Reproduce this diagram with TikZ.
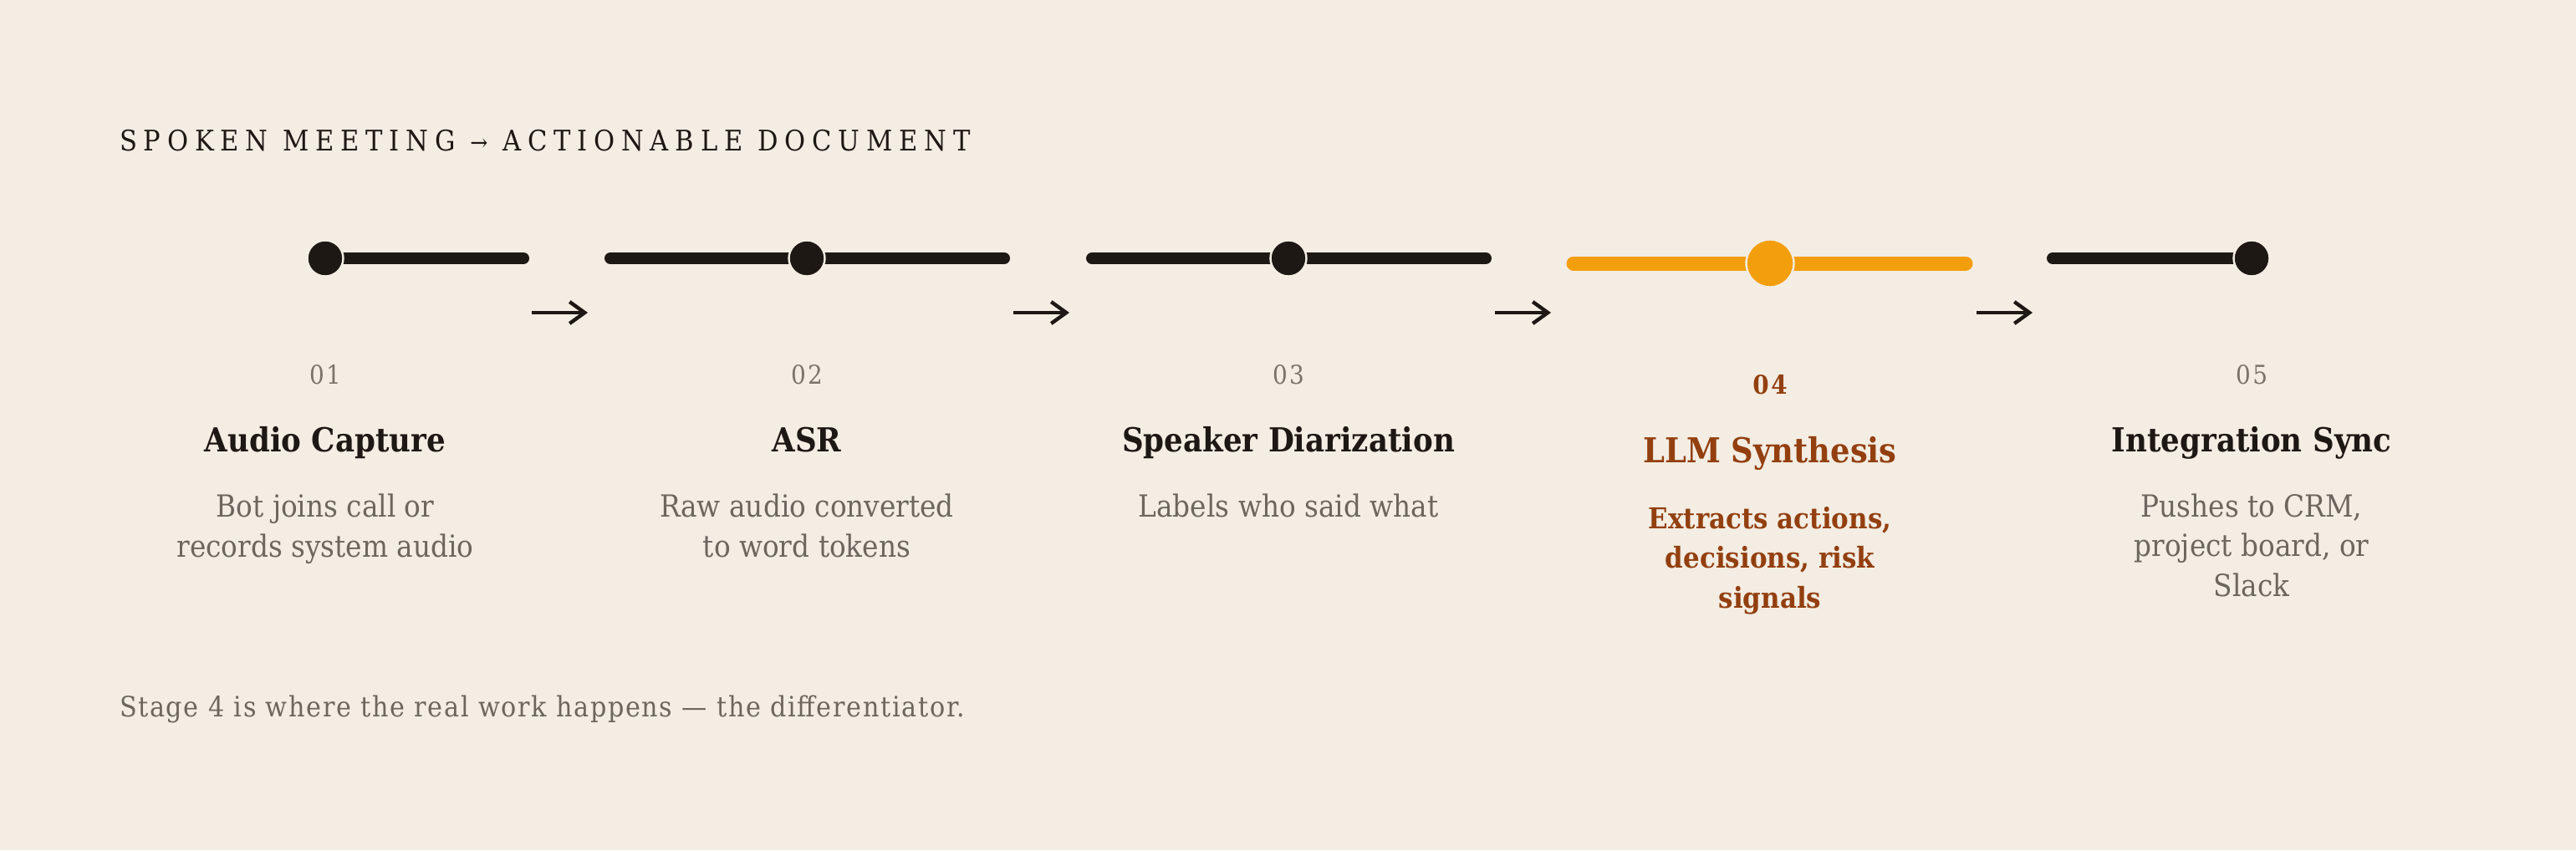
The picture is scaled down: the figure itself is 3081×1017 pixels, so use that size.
\documentclass[tikz,border=0pt]{standalone}
\usepackage{fontspec}
\setmainfont{DejaVu Serif}[FakeStretch = 0.9]
\newfontfamily\trackfont{DejaVu Serif}[FakeStretch = 0.9, LetterSpace = 23]
\newfontfamily\numfont{DejaVu Serif}[FakeStretch = 0.9, LetterSpace = 8]
\newfontfamily\notefont{DejaVu Serif}[FakeStretch = 0.9, LetterSpace = 5]
\usetikzlibrary{positioning, arrows.meta}

\definecolor{paper}{HTML}{F3EDE3}
\definecolor{ink}{HTML}{1D1814}
\definecolor{amber}{HTML}{F39E0D}
\definecolor{rust}{HTML}{933F0F}
\definecolor{muted}{HTML}{6D665E}
\definecolor{stone}{HTML}{7A736B}

\begin{document}
\begin{tikzpicture}[x = 0.5pt, y = -0.5pt, inner sep = 0pt, outer sep = 0pt,
  dot/.style = {circle, fill = ink, draw = paper, line width = 1.2pt, minimum size = 21.5pt},
  hotdot/.style = {dot, fill = amber, minimum size = 28.5pt},
  track/.style = {line width = 7pt, line cap = round, draw = ink},
  hottrack/.style = {track, line width = 8.5pt, draw = amber},
  stagenum/.style = {anchor = base, text = stone, font = \numfont\fontsize{15.5}{18}\selectfont},
  stagetitle/.style = {anchor = base, text = ink, font = \bfseries\fontsize{19.8}{23}\selectfont},
  stagetext/.style = {anchor = base, align = center, text = muted, font = \fontsize{18.2}{23.75}\selectfont},
  flow/.style = {draw = ink, line width = 2.2pt, -{Straight Barb[length = 9pt, width = 13pt]}}]
  \fill [paper] (0, 0) rectangle (3081, 1017);
  \useasboundingbox (0, 0) rectangle (3081, 1017);

  \node (heading) [anchor = base west, text = ink, font = \trackfont\fontsize{17}{20}\selectfont] at (143, 180)
    {SPOKEN MEETING {\fontsize{14}{14}\selectfont →} ACTIONABLE DOCUMENT};

  % tracks
  \coordinate (trackA1) at (389, 309);   \coordinate (trackA2) at (626, 309);
  \coordinate (trackB1) at (730, 309);   \coordinate (trackB2) at (1201, 309);
  \coordinate (trackC1) at (1306, 309);  \coordinate (trackC2) at (1777, 309);
  \coordinate (trackD1) at (1882, 315);  \coordinate (trackD2) at (2351, 315);
  \coordinate (trackE1) at (2455, 309);  \coordinate (trackE2) at (2693, 309);
  \draw [track] (trackA1) -- (trackA2);
  \draw [track] (trackB1) -- (trackB2);
  \draw [track] (trackC1) -- (trackC2);
  \draw [hottrack] (trackD1) -- (trackD2);
  \draw [track] (trackE1) -- (trackE2);

  \node (capture) [dot] at (389, 309) {};
  \node (asr) [dot] at (965, 309) {};
  \node (diarize) [dot] at (1541, 309) {};
  \node (synth) [hotdot] at (2117, 315) {};
  \node (sync) [dot] at (2693, 309) {};

  % arrows between stages
  \coordinate (flowA1) at (636, 374);   \coordinate (flowA2) at (703, 374);
  \coordinate (flowB1) at (1212, 374);  \coordinate (flowB2) at (1279, 374);
  \coordinate (flowC1) at (1788, 374);  \coordinate (flowC2) at (1855, 374);
  \coordinate (flowD1) at (2364, 374);  \coordinate (flowD2) at (2431, 374);
  \draw [flow] (flowA1) -- (flowA2);
  \draw [flow] (flowB1) -- (flowB2);
  \draw [flow] (flowC1) -- (flowC2);
  \draw [flow] (flowD1) -- (flowD2);

  % labels (base of a wrapped text is its last line)
  \node (captureNum) [stagenum] at (389, 459) {01};
  \node (captureTitle) [stagetitle] at (389, 540) {Audio Capture};
  \node (captureText) [stagetext] at (389, 666) {Bot joins call or\\records system audio};

  \node (asrNum) [stagenum] at (965, 459) {02};
  \node (asrTitle) [stagetitle] at (965, 540) {ASR};
  \node (asrText) [stagetext] at (965, 666) {Raw audio converted\\to word tokens};

  \node (diarizeNum) [stagenum] at (1541, 459) {03};
  \node (diarizeTitle) [stagetitle] at (1541, 540) {Speaker Diarization};
  \node (diarizeText) [stagetext] at (1541, 618) {Labels who said what};

  \node (synthNum) [stagenum, text = rust, font = \numfont\bfseries\fontsize{15.5}{18}\selectfont] at (2117, 471) {04};
  \node (synthTitle) [stagetitle, text = rust, font = \bfseries\fontsize{20.5}{24}\selectfont] at (2117, 553) {LLM Synthesis};
  \node (synthText) [stagetext, text = rust, font = \bfseries\fontsize{17.2}{23.75}\selectfont] at (2117, 727) {Extracts actions,\\decisions, risk\\signals};

  \node (syncNum) [stagenum] at (2693, 459) {05};
  \node (syncTitle) [stagetitle] at (2693, 540) {Integration Sync};
  \node (syncText) [stagetext] at (2693, 713) {Pushes to CRM,\\project board, or\\Slack};

  \node (footnote) [anchor = base west, text = muted, font = \notefont\fontsize{16.8}{20}\selectfont] at (143, 857)
    {Stage 4 is where the real work happens — the differentiator.};
\end{tikzpicture}
\end{document}
